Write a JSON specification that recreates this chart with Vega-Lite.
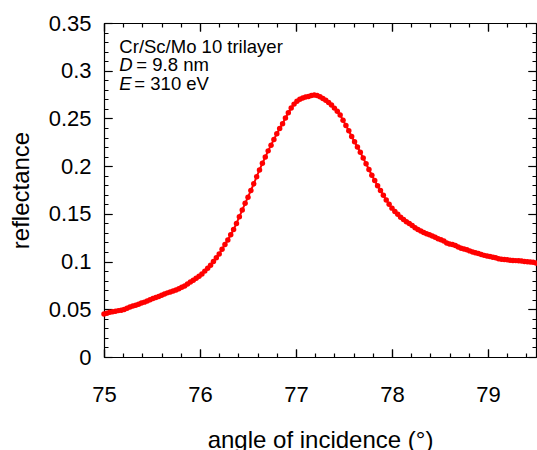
{
  "$schema": "https://vega.github.io/schema/vega-lite/v6.json",
  "width": 432,
  "height": 334,
  "autosize": "none",
  "padding": {"left": 104, "top": 23, "right": 1, "bottom": 93},
  "background": "white",
  "data": {
    "values": [
      {"angle": 75.00, "reflectance": 0.0450}, {"angle": 75.03, "reflectance": 0.0458}, {"angle": 75.06, "reflectance": 0.0468}, {"angle": 75.09, "reflectance": 0.0475},
      {"angle": 75.12, "reflectance": 0.0480}, {"angle": 75.15, "reflectance": 0.0486}, {"angle": 75.18, "reflectance": 0.0490}, {"angle": 75.21, "reflectance": 0.0498},
      {"angle": 75.24, "reflectance": 0.0512}, {"angle": 75.27, "reflectance": 0.0525}, {"angle": 75.30, "reflectance": 0.0535}, {"angle": 75.33, "reflectance": 0.0543},
      {"angle": 75.36, "reflectance": 0.0552}, {"angle": 75.39, "reflectance": 0.0565}, {"angle": 75.42, "reflectance": 0.0575}, {"angle": 75.45, "reflectance": 0.0588},
      {"angle": 75.48, "reflectance": 0.0600}, {"angle": 75.51, "reflectance": 0.0612}, {"angle": 75.54, "reflectance": 0.0624}, {"angle": 75.57, "reflectance": 0.0633},
      {"angle": 75.60, "reflectance": 0.0648}, {"angle": 75.63, "reflectance": 0.0660}, {"angle": 75.66, "reflectance": 0.0672}, {"angle": 75.69, "reflectance": 0.0680},
      {"angle": 75.72, "reflectance": 0.0692}, {"angle": 75.75, "reflectance": 0.0703}, {"angle": 75.78, "reflectance": 0.0716}, {"angle": 75.81, "reflectance": 0.0730},
      {"angle": 75.84, "reflectance": 0.0745}, {"angle": 75.87, "reflectance": 0.0765}, {"angle": 75.90, "reflectance": 0.0785}, {"angle": 75.93, "reflectance": 0.0805},
      {"angle": 75.96, "reflectance": 0.0825}, {"angle": 75.99, "reflectance": 0.0845}, {"angle": 76.02, "reflectance": 0.0870}, {"angle": 76.05, "reflectance": 0.0900},
      {"angle": 76.08, "reflectance": 0.0930}, {"angle": 76.11, "reflectance": 0.0962}, {"angle": 76.14, "reflectance": 0.1000}, {"angle": 76.17, "reflectance": 0.1040},
      {"angle": 76.20, "reflectance": 0.1080}, {"angle": 76.23, "reflectance": 0.1130}, {"angle": 76.26, "reflectance": 0.1180}, {"angle": 76.29, "reflectance": 0.1225},
      {"angle": 76.32, "reflectance": 0.1280}, {"angle": 76.35, "reflectance": 0.1335}, {"angle": 76.38, "reflectance": 0.1400}, {"angle": 76.41, "reflectance": 0.1470},
      {"angle": 76.44, "reflectance": 0.1540}, {"angle": 76.47, "reflectance": 0.1610}, {"angle": 76.50, "reflectance": 0.1675}, {"angle": 76.53, "reflectance": 0.1745},
      {"angle": 76.56, "reflectance": 0.1815}, {"angle": 76.59, "reflectance": 0.1890}, {"angle": 76.62, "reflectance": 0.1960}, {"angle": 76.65, "reflectance": 0.2030},
      {"angle": 76.68, "reflectance": 0.2095}, {"angle": 76.71, "reflectance": 0.2160}, {"angle": 76.74, "reflectance": 0.2220}, {"angle": 76.77, "reflectance": 0.2280},
      {"angle": 76.80, "reflectance": 0.2340}, {"angle": 76.83, "reflectance": 0.2395}, {"angle": 76.86, "reflectance": 0.2445}, {"angle": 76.89, "reflectance": 0.2505},
      {"angle": 76.92, "reflectance": 0.2560}, {"angle": 76.95, "reflectance": 0.2610}, {"angle": 76.98, "reflectance": 0.2650}, {"angle": 77.01, "reflectance": 0.2680},
      {"angle": 77.04, "reflectance": 0.2700}, {"angle": 77.07, "reflectance": 0.2715}, {"angle": 77.10, "reflectance": 0.2725}, {"angle": 77.13, "reflectance": 0.2730},
      {"angle": 77.16, "reflectance": 0.2740}, {"angle": 77.19, "reflectance": 0.2745}, {"angle": 77.22, "reflectance": 0.2740}, {"angle": 77.25, "reflectance": 0.2728},
      {"angle": 77.28, "reflectance": 0.2710}, {"angle": 77.31, "reflectance": 0.2690}, {"angle": 77.34, "reflectance": 0.2668}, {"angle": 77.37, "reflectance": 0.2640},
      {"angle": 77.40, "reflectance": 0.2608}, {"angle": 77.43, "reflectance": 0.2575}, {"angle": 77.46, "reflectance": 0.2535}, {"angle": 77.49, "reflectance": 0.2480},
      {"angle": 77.52, "reflectance": 0.2425}, {"angle": 77.55, "reflectance": 0.2370}, {"angle": 77.58, "reflectance": 0.2310}, {"angle": 77.61, "reflectance": 0.2255},
      {"angle": 77.64, "reflectance": 0.2200}, {"angle": 77.67, "reflectance": 0.2145}, {"angle": 77.70, "reflectance": 0.2085}, {"angle": 77.73, "reflectance": 0.2025},
      {"angle": 77.76, "reflectance": 0.1965}, {"angle": 77.79, "reflectance": 0.1905}, {"angle": 77.82, "reflectance": 0.1850}, {"angle": 77.85, "reflectance": 0.1795},
      {"angle": 77.88, "reflectance": 0.1745}, {"angle": 77.91, "reflectance": 0.1695}, {"angle": 77.94, "reflectance": 0.1645}, {"angle": 77.97, "reflectance": 0.1600},
      {"angle": 78.00, "reflectance": 0.1560}, {"angle": 78.03, "reflectance": 0.1525}, {"angle": 78.06, "reflectance": 0.1495}, {"angle": 78.09, "reflectance": 0.1465},
      {"angle": 78.12, "reflectance": 0.1440}, {"angle": 78.15, "reflectance": 0.1418}, {"angle": 78.18, "reflectance": 0.1398}, {"angle": 78.21, "reflectance": 0.1378},
      {"angle": 78.24, "reflectance": 0.1355}, {"angle": 78.27, "reflectance": 0.1335}, {"angle": 78.30, "reflectance": 0.1320}, {"angle": 78.33, "reflectance": 0.1305},
      {"angle": 78.36, "reflectance": 0.1292}, {"angle": 78.39, "reflectance": 0.1280}, {"angle": 78.42, "reflectance": 0.1268}, {"angle": 78.45, "reflectance": 0.1255},
      {"angle": 78.48, "reflectance": 0.1240}, {"angle": 78.51, "reflectance": 0.1228}, {"angle": 78.54, "reflectance": 0.1215}, {"angle": 78.57, "reflectance": 0.1195},
      {"angle": 78.60, "reflectance": 0.1185}, {"angle": 78.63, "reflectance": 0.1178}, {"angle": 78.66, "reflectance": 0.1168}, {"angle": 78.69, "reflectance": 0.1152},
      {"angle": 78.72, "reflectance": 0.1140}, {"angle": 78.75, "reflectance": 0.1132}, {"angle": 78.78, "reflectance": 0.1125}, {"angle": 78.81, "reflectance": 0.1112},
      {"angle": 78.84, "reflectance": 0.1100}, {"angle": 78.87, "reflectance": 0.1092}, {"angle": 78.90, "reflectance": 0.1085}, {"angle": 78.93, "reflectance": 0.1075},
      {"angle": 78.96, "reflectance": 0.1065}, {"angle": 78.99, "reflectance": 0.1058}, {"angle": 79.02, "reflectance": 0.1052}, {"angle": 79.05, "reflectance": 0.1045},
      {"angle": 79.08, "reflectance": 0.1040}, {"angle": 79.11, "reflectance": 0.1030}, {"angle": 79.14, "reflectance": 0.1025}, {"angle": 79.17, "reflectance": 0.1022},
      {"angle": 79.20, "reflectance": 0.1018}, {"angle": 79.23, "reflectance": 0.1015}, {"angle": 79.26, "reflectance": 0.1012}, {"angle": 79.29, "reflectance": 0.1010},
      {"angle": 79.32, "reflectance": 0.1008}, {"angle": 79.35, "reflectance": 0.1005}, {"angle": 79.38, "reflectance": 0.1000}, {"angle": 79.41, "reflectance": 0.0998},
      {"angle": 79.44, "reflectance": 0.0995}, {"angle": 79.47, "reflectance": 0.0992}, {"angle": 79.50, "reflectance": 0.0985}
    ]
  },
  "layer": [
    {
      "mark": {"type": "line", "color": "#ff0000", "strokeWidth": 2},
      "encoding": {
        "x": {"field": "angle", "type": "quantitative", "scale": {"domain": [75, 79.5], "nice": false, "zero": false},
          "axis": {"orient": "bottom", "values": [75, 76, 77, 78, 79], "format": "d",
            "grid": true, "gridColor": "black", "gridWidth": 1.2, "gridOpacity": 1, "gridDash": [8, 318, 8, 0],
            "domainColor": "black", "domainWidth": 1.2, "tickSize": -8, "tickColor": "black", "tickWidth": 1.2,
            "labelFlush": false, "labelPadding": 35, "labelFontSize": 22, "labelFont": "Liberation Sans", "labelColor": "black",
            "title": "angle of incidence (°)", "titleFont": "Liberation Sans", "titleColor": "black", "titleFontWeight": "normal", "titleFontSize": 24, "titleBaseline": "alphabetic", "titleY": 90}},
        "y": {"field": "reflectance", "type": "quantitative", "scale": {"domain": [0, 0.35], "nice": false, "zero": false},
          "axis": {"orient": "left", "values": [0, 0.05, 0.1, 0.15, 0.2, 0.25, 0.3, 0.35], "format": "~g",
            "grid": true, "gridColor": "black", "gridWidth": 1.2, "gridOpacity": 1, "gridDash": [8, 416, 8, 0],
            "domainColor": "black", "domainWidth": 1.2, "tickSize": -8, "tickColor": "black", "tickWidth": 1.2,
            "labelFlush": false, "labelPadding": 21, "labelFontSize": 22, "labelFont": "Liberation Sans", "labelColor": "black",
            "title": "reflectance", "titleFont": "Liberation Sans", "titleColor": "black", "titleFontWeight": "normal", "titleFontSize": 24, "titleBaseline": "alphabetic", "titleX": -76}}
      }
    },
    {
      "mark": {"type": "point", "filled": true, "color": "#ff0000", "size": 30, "opacity": 1},
      "encoding": {
        "x": {"field": "angle", "type": "quantitative",
          "axis": {"orient": "top", "values": [75, 76, 77, 78, 79], "labels": false, "title": null, "grid": false, "domainColor": "black", "domainWidth": 1.2, "tickSize": -8, "tickColor": "black", "tickWidth": 1.2}},
        "y": {"field": "reflectance", "type": "quantitative",
          "axis": {"orient": "right", "values": [0, 0.05, 0.1, 0.15, 0.2, 0.25, 0.3, 0.35], "labels": false, "title": null, "grid": false, "domainColor": "black", "domainWidth": 1.2, "tickSize": -8, "tickColor": "black", "tickWidth": 1.2}}
      }
    },
    {
      "data": {"values": [{"label": "Cr/Sc/Mo 10 trilayer"}]},
      "mark": {"type": "text", "align": "left", "baseline": "alphabetic", "fontSize": 18.5, "font": "Liberation Sans", "color": "black"},
      "encoding": {
        "x": {"datum": 75.16, "type": "quantitative",
          "axis": {"orient": "bottom", "values": [75.2, 75.4, 75.6, 75.8, 76.2, 76.4, 76.6, 76.8, 77.2, 77.4, 77.6, 77.8, 78.2, 78.4, 78.6, 78.8, 79.2, 79.4], "labels": false, "title": null, "domain": false, "ticks": false,
            "grid": true, "gridColor": "black", "gridWidth": 1.2, "gridOpacity": 1, "gridDash": [4, 326, 4, 0]}},
        "y": {"datum": 0.3189, "type": "quantitative",
          "axis": {"orient": "left", "values": [0.01, 0.02, 0.03, 0.04, 0.06, 0.07, 0.08, 0.09, 0.11, 0.12, 0.13, 0.14, 0.16, 0.17, 0.18, 0.19, 0.21, 0.22, 0.23, 0.24, 0.26, 0.27, 0.28, 0.29, 0.31, 0.32, 0.33, 0.34], "labels": false, "title": null, "domain": false, "ticks": false,
            "grid": true, "gridColor": "black", "gridWidth": 1.2, "gridOpacity": 1, "gridDash": [4, 424, 4, 0]}},
        "text": {"field": "label"}}
    },
    {
      "data": {"values": [{"label": "D"}]},
      "mark": {"type": "text", "align": "left", "baseline": "alphabetic", "fontSize": 18.5, "font": "Liberation Sans", "fontStyle": "italic", "color": "black"},
      "encoding": {"x": {"datum": 75.16, "type": "quantitative", "axis": null}, "y": {"datum": 0.2994, "type": "quantitative", "axis": null}, "text": {"field": "label"}}
    },
    {
      "data": {"values": [{"label": "= 9.8 nm"}]},
      "mark": {"type": "text", "align": "left", "baseline": "alphabetic", "fontSize": 18.5, "font": "Liberation Sans", "color": "black", "dx": 17},
      "encoding": {"x": {"datum": 75.16, "type": "quantitative", "axis": null}, "y": {"datum": 0.2994, "type": "quantitative", "axis": null}, "text": {"field": "label"}}
    },
    {
      "data": {"values": [{"label": "E"}]},
      "mark": {"type": "text", "align": "left", "baseline": "alphabetic", "fontSize": 18.5, "font": "Liberation Sans", "fontStyle": "italic", "color": "black"},
      "encoding": {"x": {"datum": 75.16, "type": "quantitative", "axis": null}, "y": {"datum": 0.2795, "type": "quantitative", "axis": null}, "text": {"field": "label"}}
    },
    {
      "data": {"values": [{"label": "= 310 eV"}]},
      "mark": {"type": "text", "align": "left", "baseline": "alphabetic", "fontSize": 18.5, "font": "Liberation Sans", "color": "black", "dx": 15},
      "encoding": {"x": {"datum": 75.16, "type": "quantitative", "axis": null}, "y": {"datum": 0.2795, "type": "quantitative", "axis": null}, "text": {"field": "label"}}
    }
  ],
  "resolve": {"axis": {"x": "independent", "y": "independent"}}
}
